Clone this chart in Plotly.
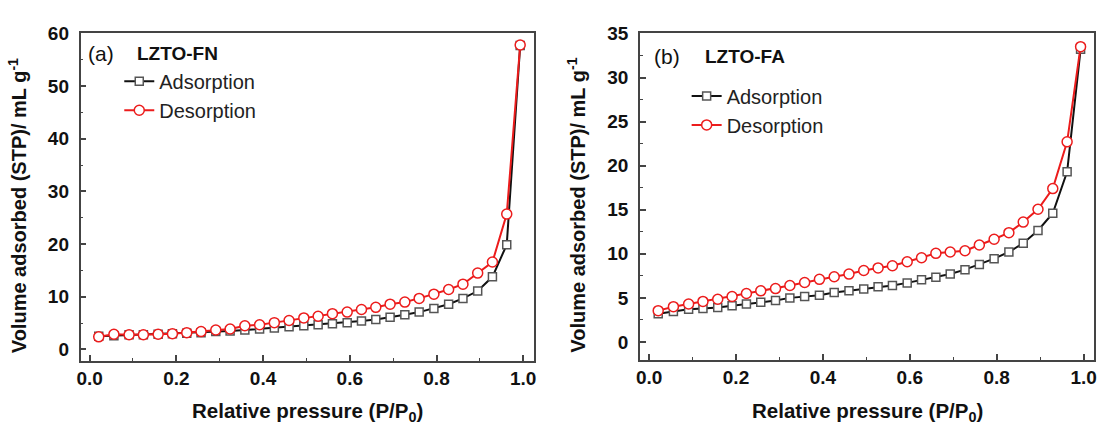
import plotly.graph_objects as go

# Relative pressure points (P/P0) shared by both isotherms
p_rel = [0.021, 0.056, 0.091, 0.124, 0.158, 0.191, 0.224, 0.257, 0.291, 0.324,
         0.358, 0.392, 0.426, 0.460, 0.494, 0.527, 0.560, 0.594, 0.627, 0.660,
         0.693, 0.727, 0.760, 0.794, 0.828, 0.861, 0.895, 0.929, 0.962, 0.993]

# (a) LZTO-FN, volume adsorbed (mL/g, STP)
fn_ads = [2.5, 2.6, 2.8, 2.8, 2.9, 3.0, 3.1, 3.2, 3.4, 3.5,
          3.7, 3.9, 4.1, 4.3, 4.5, 4.7, 4.9, 5.1, 5.4, 5.7,
          6.1, 6.6, 7.1, 7.8, 8.6, 9.7, 11.1, 13.8, 19.9, 57.7]
fn_des = [2.4, 2.9, 2.8, 2.8, 2.9, 3.0, 3.2, 3.4, 3.7, 3.9,
          4.5, 4.7, 5.1, 5.5, 6.0, 6.3, 6.8, 7.1, 7.6, 8.0,
          8.6, 9.0, 9.7, 10.5, 11.4, 12.4, 14.5, 16.6, 25.7, 57.8]

# (b) LZTO-FA, volume adsorbed (mL/g, STP)
fa_ads = [3.2, 3.45, 3.7, 3.8, 3.9, 4.1, 4.3, 4.5, 4.7, 5.0,
          5.15, 5.3, 5.6, 5.8, 6.0, 6.25, 6.4, 6.7, 7.05, 7.35,
          7.7, 8.2, 8.8, 9.45, 10.2, 11.2, 12.65, 14.6, 19.3, 33.2]
fa_des = [3.55, 4.0, 4.3, 4.6, 4.85, 5.15, 5.5, 5.8, 6.05, 6.4,
          6.75, 7.1, 7.4, 7.7, 8.1, 8.4, 8.65, 9.1, 9.55, 10.05,
          10.2, 10.35, 11.0, 11.65, 12.4, 13.6, 15.05, 17.4, 22.7, 33.5]

panel_tags = ["(a)", "(b)"]
sample_names = ["LZTO-FN", "LZTO-FA"]
series_names = ["Adsorption", "Desorption"]
x_ticks = [0.0, 0.2, 0.4, 0.6, 0.8, 1.0]
x_tick_text = ["0.0", "0.2", "0.4", "0.6", "0.8", "1.0"]

FONT = "Arial, Liberation Sans, sans-serif"
BLACK = "#111111"
RED = "rgb(236,28,28)"
FRAME = "#444444"

W, H = 1106, 425
# plot-area boxes in pixels: (left, right, top, bottom)
boxes = [(77, 533, 24, 359), (640, 1097, 24, 358)]


def px_x(v):
    return v / W


def px_y(v):
    return 1 - v / H


fig = go.Figure()

panels = [(fn_ads, fn_des, "x", "y", "legend"),
          (fa_ads, fa_des, "x2", "y2", "legend2")]

for ads, des, xa, ya, lg in panels:
    fig.add_trace(go.Scatter(
        x=p_rel, y=ads, name=series_names[0], mode="lines+markers",
        xaxis=xa, yaxis=ya, legend=lg,
        line=dict(color=BLACK, width=2),
        marker=dict(symbol="square", size=8, color="white",
                    line=dict(color="#555555", width=1.5)),
    ))
    fig.add_trace(go.Scatter(
        x=p_rel, y=des, name=series_names[1], mode="lines+markers",
        xaxis=xa, yaxis=ya, legend=lg,
        line=dict(color=RED, width=2),
        marker=dict(symbol="circle", size=10, color="white",
                    line=dict(color=RED, width=1.5)),
    ))

tick_font = dict(family=FONT, size=19, color="#111111", weight="bold")


def xaxis_cfg(box, anchor):
    l, r, t, b = box
    return dict(
        domain=[px_x(l), px_x(r)], anchor=anchor, range=[-0.021, 1.024],
        tickvals=x_ticks, ticktext=x_tick_text, ticks="inside", ticklen=6,
        tickwidth=1.5, tickcolor=FRAME,
        minor=dict(dtick=0.1, tick0=0, ticks="inside", ticklen=3,
                   tickwidth=1.2, tickcolor=FRAME),
        showline=True, linecolor=FRAME, linewidth=1.5, mirror=True,
        showgrid=False, zeroline=False, tickfont=tick_font,
        ticklabelstandoff=0,
    )


def yaxis_cfg(box, anchor, rng, dtick):
    l, r, t, b = box
    return dict(
        domain=[px_y(b), px_y(t)], anchor=anchor, range=rng,
        tick0=0, dtick=dtick, ticks="inside", ticklen=6,
        tickwidth=1.5, tickcolor=FRAME,
        minor=dict(dtick=dtick / 2, tick0=0, ticks="inside", ticklen=3,
                   tickwidth=1.2, tickcolor=FRAME),
        showline=True, linecolor=FRAME, linewidth=1.5, mirror=True,
        showgrid=False, zeroline=False, tickfont=tick_font,
        ticklabelstandoff=6,
    )


legend_common = dict(
    font=dict(family=FONT, size=20, color="#222222"),
    bgcolor="rgba(0,0,0,0)", xanchor="left", yanchor="top",
    tracegroupgap=0, itemwidth=30,
)

fig.update_layout(
    width=W, height=H,
    margin=dict(l=0, r=0, t=0, b=0),
    paper_bgcolor="white", plot_bgcolor="white",
    font=dict(family=FONT, color="#111111"),
    xaxis=xaxis_cfg(boxes[0], "y"),
    yaxis=yaxis_cfg(boxes[0], "x", [-2.1, 60], 10),
    xaxis2=xaxis_cfg(boxes[1], "y2"),
    yaxis2=yaxis_cfg(boxes[1], "x2", [-2.0, 35], 5),
    legend=dict(x=px_x(116), y=px_y(53), **legend_common),
    legend2=dict(x=px_x(687), y=px_y(68), **legend_common),
)

annotations = []
tag_pos = [(83, 132, 45), (652, 703, 48)]
for i, box in enumerate(boxes):
    l, r, t, b = box
    tx, nx, ty = tag_pos[i]
    annotations.append(dict(
        text=panel_tags[i], x=px_x(tx), y=px_y(ty), xref="paper", yref="paper",
        xanchor="left", yanchor="middle", showarrow=False,
        font=dict(family=FONT, size=21, color="#111111"),
    ))
    annotations.append(dict(
        text="<b>" + sample_names[i] + "</b>", x=px_x(nx), y=px_y(ty),
        xref="paper", yref="paper", xanchor="left", yanchor="middle",
        showarrow=False, font=dict(family=FONT, size=19, color="#111111"),
    ))
    # axis titles
    annotations.append(dict(
        text="<b>Relative pressure (P/P<sub>0</sub>)</b>",
        x=px_x((l + r) / 2), y=px_y(412), xref="paper", yref="paper",
        xanchor="center", yanchor="middle", showarrow=False,
        font=dict(family=FONT, size=20.5, color="#111111"),
    ))
    annotations.append(dict(
        text="<b>Volume adsorbed (STP)/ mL g<sup>-1</sup></b>",
        x=px_x(l - 64), y=px_y(200), xref="paper", yref="paper",
        xanchor="center", yanchor="middle", textangle=-90, showarrow=False,
        font=dict(family=FONT, size=20, color="#111111"),
    ))

fig.update_layout(annotations=annotations)

fig.write_html("out.html")
